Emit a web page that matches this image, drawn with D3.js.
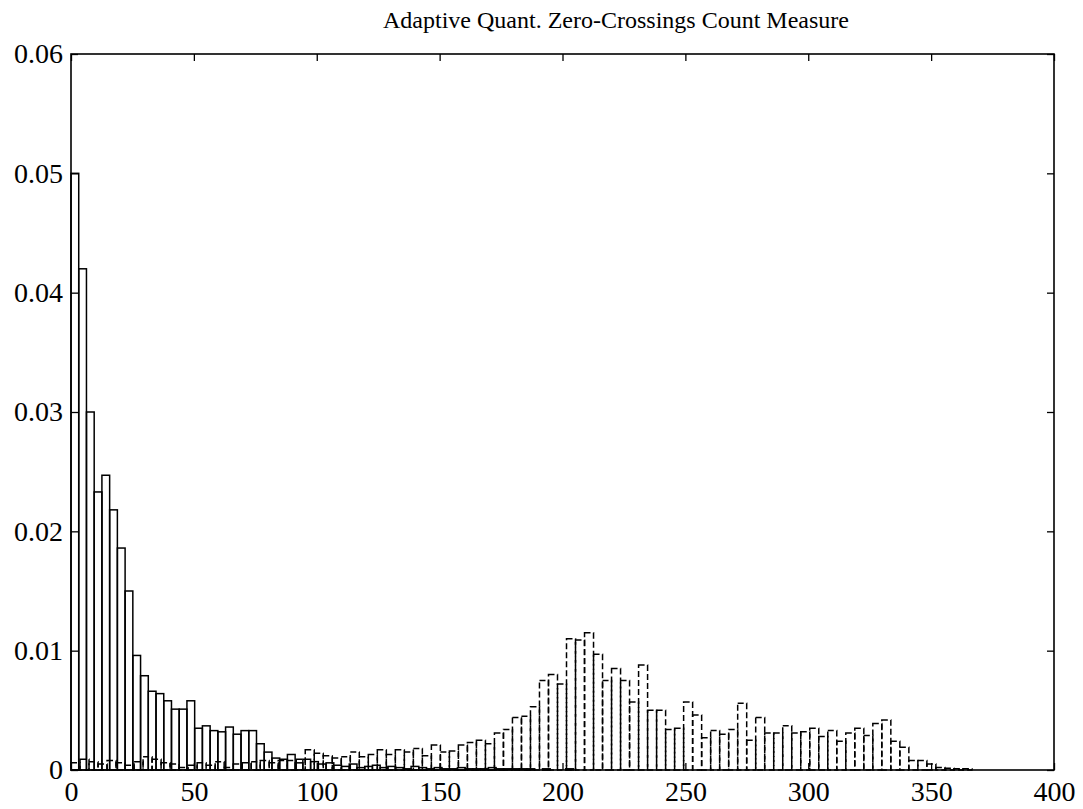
<!DOCTYPE html>
<html>
<head>
<meta charset="utf-8">
<script src="https://cdn.jsdelivr.net/npm/d3@7"></script>
<style>
  html, body { margin: 0; padding: 0; background: #fff; }
  svg { display: block; }
  text { font-family: "Liberation Serif", "Times New Roman", serif; fill: #000; }
</style>
</head>
<body>
<svg id="chart" width="1083" height="809"></svg>
<script>
// Histogram of the zero-crossings count for two classes (100 bins each).
const titleText = "Adaptive Quant. Zero-Crossings Count Measure";
const nBins = 100;

// Solid histogram: data range of the first class
const solidRange = [0, 314.5];
const solidValues = [
  0.0500, 0.0420, 0.0300, 0.0233, 0.0247, 0.0218, 0.0186, 0.0150, 0.0096, 0.0079,
  0.0066, 0.0064, 0.0058, 0.0051, 0.0051, 0.0058, 0.0035, 0.0037, 0.0033, 0.0032,
  0.0036, 0.0030, 0.0033, 0.0033, 0.0022, 0.0015, 0.0010, 0.0009, 0.0013, 0.0006,
  0.0009, 0.0007, 0.0005, 0.0006, 0.0004, 0.0003, 0.0005, 0.0002, 0.0003, 0.0004,
  0.0002, 0.0003, 0.0002, 0.0001, 0.0003, 0.0002, 0.0001, 0.0002, 0.0001, 0.0001,
  0.0002, 0.0001, 0.0001, 0.0001, 0.0002, 0.0001, 0.0001, 0.0001, 0.0001, 0.0001,
  0.0000, 0.0001, 0.0000, 0.0000, 0.0001, 0.0000, 0.0000, 0.0000, 0.0000, 0.0000,
  0.0000, 0.0000, 0.0000, 0.0000, 0.0000, 0.0000, 0.0000, 0.0000, 0.0000, 0.0000,
  0.0000, 0.0000, 0.0000, 0.0000, 0.0000, 0.0000, 0.0000, 0.0000, 0.0000, 0.0000,
  0.0000, 0.0000, 0.0000, 0.0000, 0.0000, 0.0000, 0.0000, 0.0000, 0.0000, 0.0000
];

// Dashed histogram: data range of the second class
const dashedRange = [0, 366.6];
const dashedValues = [
  0.0006, 0.0009, 0.0007, 0.0005, 0.0008, 0.0006, 0.0004, 0.0007, 0.0011, 0.0009,
  0.0006, 0.0005, 0.0002, 0.0004, 0.0006, 0.0004, 0.0007, 0.0002, 0.0005, 0.0006,
  0.0007, 0.0008, 0.0006, 0.0008, 0.0008, 0.0009, 0.0017, 0.0014, 0.0012, 0.0010,
  0.0011, 0.0015, 0.0011, 0.0013, 0.0017, 0.0013, 0.0017, 0.0015, 0.0018, 0.0012,
  0.0021, 0.0015, 0.0016, 0.0021, 0.0023, 0.0025, 0.0022, 0.0031, 0.0034, 0.0044,
  0.0045, 0.0053, 0.0075, 0.0080, 0.0072, 0.0110, 0.0109, 0.0115, 0.0097, 0.0075,
  0.0085, 0.0075, 0.0057, 0.0088, 0.0050, 0.0050, 0.0034, 0.0035, 0.0057, 0.0046,
  0.0027, 0.0033, 0.0030, 0.0034, 0.0056, 0.0025, 0.0044, 0.0031, 0.0031, 0.0037,
  0.0031, 0.0032, 0.0035, 0.0028, 0.0033, 0.0024, 0.0031, 0.0035, 0.0029, 0.0039,
  0.0042, 0.0024, 0.0019, 0.0008, 0.0008, 0.0005, 0.0002, 0.00015, 0.0001, 0.0001
];

const xTicks = [0, 50, 100, 150, 200, 250, 300, 350, 400];
const yTicks = [0, 0.01, 0.02, 0.03, 0.04, 0.05, 0.06];

const margin = { left: 71, right: 1054, top: 54, bottom: 770 };

const svg = d3.select("#chart");

const x = d3.scaleLinear().domain([0, 400]).range([margin.left, margin.right]);
const y = d3.scaleLinear().domain([0, 0.06]).range([margin.bottom, margin.top]);

// Bins as {x0, x1, value} built from each class's range
function toBins(values, range) {
  const w = (range[1] - range[0]) / nBins;
  return values.map((v, i) => ({ x0: range[0] + i * w, x1: range[0] + (i + 1) * w, value: v }));
}

const solidBins = toBins(solidValues, solidRange);
const dashedBins = toBins(dashedValues, dashedRange);

const plot = svg.append("g");

plot.append("g").selectAll("rect")
  .data(solidBins)
  .join("rect")
  .attr("x", d => x(d.x0))
  .attr("width", d => x(d.x1) - x(d.x0))
  .attr("y", d => y(d.value))
  .attr("height", d => y(0) - y(d.value))
  .attr("fill", "none")
  .attr("stroke", "#000")
  .attr("stroke-width", 1.5);

plot.append("g").selectAll("rect")
  .data(dashedBins)
  .join("rect")
  .attr("x", d => x(d.x0))
  .attr("width", d => x(d.x1) - x(d.x0))
  .attr("y", d => y(d.value))
  .attr("height", d => y(0) - y(d.value))
  .attr("fill", "none")
  .attr("stroke", "#000")
  .attr("stroke-width", 1.5)
  .attr("stroke-dasharray", "6,3");

// Axes with inward ticks on all four sides
const tickLen = 7;
const yFmt = d => d === 0 ? "0" : d3.format(".2f")(d);

const axisStyle = g => {
  g.select(".domain").remove();
  g.selectAll(".tick line").attr("stroke", "#000").attr("stroke-width", 1.3);
  g.selectAll("text").style("font-family", "'Liberation Serif', 'Times New Roman', serif")
    .style("font-size", "28px").attr("fill", "#000");
};

svg.append("g")
  .attr("transform", `translate(0,${margin.bottom})`)
  .call(d3.axisBottom(x).tickValues(xTicks).tickSize(-tickLen).tickPadding(8).tickFormat(d3.format("d")))
  .call(axisStyle)
  .selectAll("text").attr("dy", "0.82em");

svg.append("g")
  .attr("transform", `translate(0,${margin.top})`)
  .call(d3.axisTop(x).tickValues(xTicks).tickSize(-tickLen).tickFormat(""))
  .call(axisStyle);

svg.append("g")
  .attr("transform", `translate(${margin.left},0)`)
  .call(d3.axisLeft(y).tickValues(yTicks).tickSize(-tickLen).tickPadding(8).tickFormat(yFmt))
  .call(axisStyle);

svg.append("g")
  .attr("transform", `translate(${margin.right},0)`)
  .call(d3.axisRight(y).tickValues(yTicks).tickSize(-tickLen).tickFormat(""))
  .call(axisStyle);

// Frame
svg.append("rect")
  .attr("x", margin.left)
  .attr("y", margin.top)
  .attr("width", margin.right - margin.left)
  .attr("height", margin.bottom - margin.top)
  .attr("fill", "none")
  .attr("stroke", "#000")
  .attr("stroke-width", 1.6);

// Title
svg.append("text")
  .attr("x", 616)
  .attr("y", 28)
  .attr("text-anchor", "middle")
  .style("font-size", "24px")
  .text(titleText);
</script>
</body>
</html>
